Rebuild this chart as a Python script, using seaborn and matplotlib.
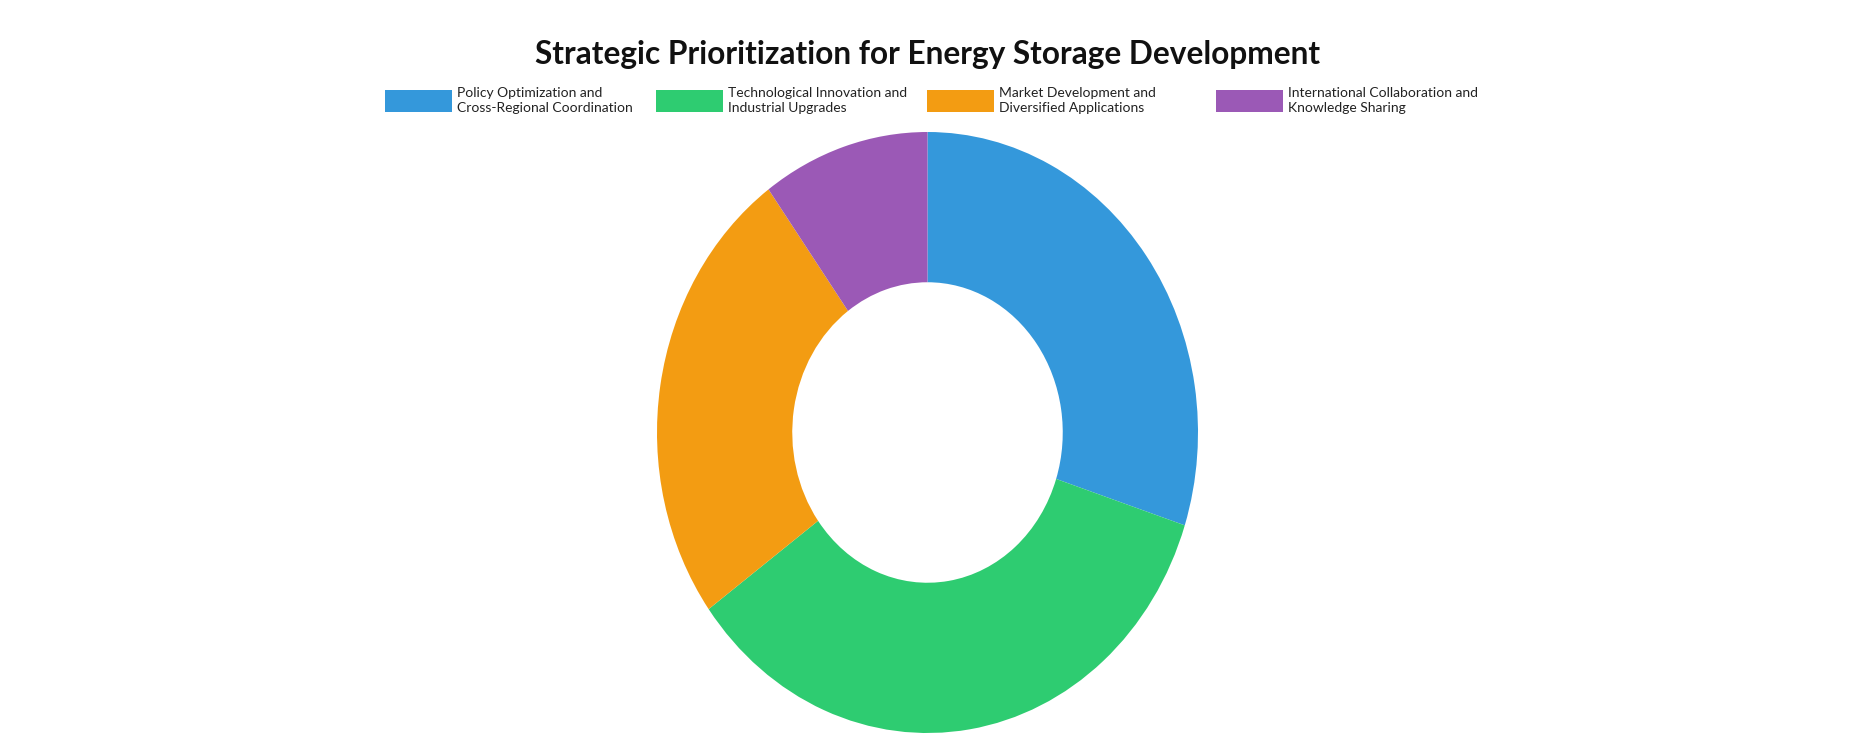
import matplotlib
matplotlib.use("Agg")
import matplotlib.pyplot as plt
import seaborn as sns

# data
categories = [
    "Policy Optimization and\nCross-Regional Coordination",
    "Technological Innovation and\nIndustrial Upgrades",
    "Market Development and\nDiversified Applications",
    "International Collaboration and\nKnowledge Sharing",
]
shares = [30, 35, 25, 10]
colors = ["#3498db", "#2ecc71", "#f39c12", "#9b59b6"]
title = "Strategic Prioritization for Energy Storage Development"

sns.set_theme(style="white")
plt.rcParams["font.family"] = ["Lato", "DejaVu Sans"]

W, H = 1856, 738
fig = plt.figure(figsize=(W / 100, H / 100), dpi=100)

# donut axes (reference is stretched vertically, so no equal aspect)
ax = fig.add_axes([657 / W, 5 / H, 541 / W, 601 / H])
wedges, _ = ax.pie(shares, colors=sns.color_palette(colors), startangle=90,
                   counterclock=False, radius=1,
                   wedgeprops=dict(width=0.5, linewidth=0))
ax.set_aspect("auto")
ax.set_xlim(-1, 1)
ax.set_ylim(-1, 1)
ax.axis("off")

fig.text(0.5, 1 - 64 / H, title, ha="center", va="baseline", fontsize=22.8,
         fontweight="bold", color="#111111")

# legend items, one per entry so spacing follows the reference
fs = 10
fpx = fs * 100 / 72
legend_x = [385, 656, 927, 1216]
for w, lab, x in zip(wedges, categories, legend_x):
    lg = fig.legend(handles=[w], labels=[lab], loc="upper left",
                    bbox_to_anchor=(x / W, 1 - 87 / H), frameon=False,
                    fontsize=fs, handlelength=67 / fpx,
                    handleheight=22 * 1.33 / fpx, handletextpad=0.35,
                    borderpad=0, borderaxespad=0, labelspacing=0)
    for t in lg.get_texts():
        t.set_color("#222222")
        t.set_linespacing(1.25)

fig.savefig("out.png", dpi=100)
